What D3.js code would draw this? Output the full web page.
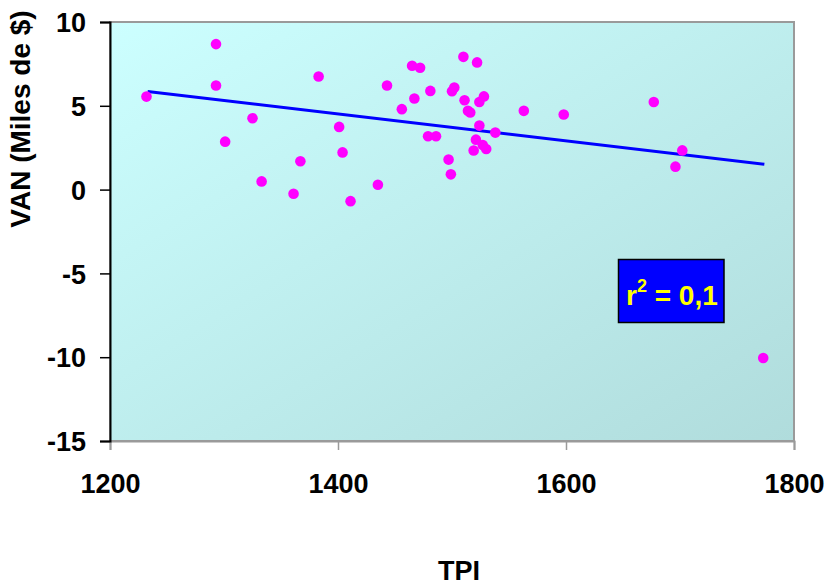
<!DOCTYPE html>
<html>
<head>
<meta charset="utf-8">
<script src="https://cdn.jsdelivr.net/npm/d3@7"></script>
<style>
  html, body { margin: 0; padding: 0; background: #ffffff; }
  svg { display: block; font-family: "Liberation Sans", Arial, sans-serif; font-weight: bold; }
</style>
</head>
<body>
<svg id="chart" width="826" height="588"></svg>
<script>
// TPI (x) versus VAN in thousands of dollars (y)
const tpi = [1232, 1293, 1293, 1301, 1325, 1333, 1361, 1367, 1383, 1401, 1404, 1411,
             1435, 1443, 1456, 1465, 1472, 1467, 1481, 1479, 1486, 1497, 1499, 1500,
             1502, 1510, 1522, 1511, 1514, 1516, 1524, 1528, 1524, 1538, 1521, 1527,
             1530, 1519, 1563, 1598, 1677, 1702, 1696, 1773];
const van = [5.55, 8.68, 6.21, 2.86, 4.26, 0.49, -0.25, 1.69, 6.75, 3.74, 2.22, -0.69,
             0.29, 6.21, 4.80, 7.39, 7.27, 5.44, 5.89, 3.18, 3.18, 1.79, 0.91, 5.87,
             6.09, 7.92, 7.59, 5.33, 4.70, 4.60, 5.23, 5.56, 3.82, 3.40, 2.98, 2.66,
             2.42, 2.33, 4.70, 4.48, 5.23, 2.34, 1.37, -10.05];

// Linear trend line end points
const trendX = [1233, 1774];
const trendY = [5.86, 1.51];

const xTicks = [1200, 1400, 1600, 1800];
const yTicks = [10, 5, 0, -5, -10, -15];
const rSquaredLabel = "0,1";

const svg = d3.select("#chart");
const plot = { left: 110, right: 794, top: 22, bottom: 441 };

const x = d3.scaleLinear().domain([1200, 1800]).range([plot.left, plot.right]);
const y = d3.scaleLinear().domain([-15, 10]).range([plot.bottom, plot.top]);

// Plot background gradient
const defs = svg.append("defs");
const grad = defs.append("linearGradient")
  .attr("id", "bg").attr("x1", "0%").attr("y1", "0%").attr("x2", "100%").attr("y2", "100%");
grad.append("stop").attr("offset", "0%").attr("stop-color", "#ccffff");
grad.append("stop").attr("offset", "100%").attr("stop-color", "#b0dcdc");

svg.append("rect")
  .attr("x", plot.left).attr("y", plot.top)
  .attr("width", plot.right - plot.left).attr("height", plot.bottom - plot.top)
  .attr("fill", "url(#bg)")
  .attr("stroke", "#9a9a9a").attr("stroke-width", 2);

// X axis (gray ticks below the plot)
const xAxis = svg.append("g")
  .attr("transform", `translate(0,${plot.bottom})`)
  .call(d3.axisBottom(x).tickValues(xTicks).tickSize(9).tickPadding(24).tickFormat(d => String(d)));
xAxis.select(".domain").attr("stroke", "#9a9a9a").attr("stroke-width", 2);
xAxis.selectAll(".tick line").attr("stroke", "#9a9a9a").attr("stroke-width", 1.5);
xAxis.selectAll(".tick text")
  .attr("fill", "#000").attr("font-size", 27).attr("font-family", "Liberation Sans, Arial, sans-serif")
  .attr("font-weight", "bold").attr("dy", "0.71em");

// Y axis (black)
const yAxis = svg.append("g")
  .attr("transform", `translate(${plot.left},0)`)
  .call(d3.axisLeft(y).tickValues(yTicks).tickSize(10).tickPadding(14).tickFormat(d => String(d)));
yAxis.select(".domain").attr("stroke", "#000").attr("stroke-width", 2);
yAxis.selectAll(".tick line").attr("stroke", "#000").attr("stroke-width", 1.5);
yAxis.selectAll(".tick text")
  .attr("fill", "#000").attr("font-size", 27).attr("font-family", "Liberation Sans, Arial, sans-serif")
  .attr("font-weight", "bold").attr("dy", "0.36em");

// Trend line
svg.append("line")
  .attr("x1", x(trendX[0])).attr("y1", y(trendY[0]))
  .attr("x2", x(trendX[1])).attr("y2", y(trendY[1]))
  .attr("stroke", "#0000ff").attr("stroke-width", 3);

// Scatter points
svg.append("g").selectAll("circle")
  .data(tpi.map((t, i) => [t, van[i]]))
  .join("circle")
  .attr("cx", d => x(d[0])).attr("cy", d => y(d[1]))
  .attr("r", 5.3)
  .attr("fill", "#ff00ff");

// r-squared box
svg.append("rect")
  .attr("x", 618.5).attr("y", 259.5).attr("width", 105.5).attr("height", 63)
  .attr("fill", "#0000ff").attr("stroke", "#000").attr("stroke-width", 1.5);
const rt = svg.append("text")
  .attr("x", 626).attr("y", 305)
  .attr("fill", "#ffff00").attr("font-size", 28);
rt.append("tspan").text("r");
rt.append("tspan").attr("font-size", 18).attr("dy", -13).text("2");
rt.append("tspan").attr("dy", 13).text(" = " + rSquaredLabel);

// Axis titles
svg.append("text")
  .attr("x", 459).attr("y", 580)
  .attr("text-anchor", "middle").attr("font-size", 27).attr("fill", "#000")
  .text("TPI");
svg.append("text")
  .attr("transform", "translate(30,119) rotate(-90)")
  .attr("text-anchor", "middle").attr("font-size", 28).attr("fill", "#000")
  .text("VAN (Miles de $)");
</script>
</body>
</html>
